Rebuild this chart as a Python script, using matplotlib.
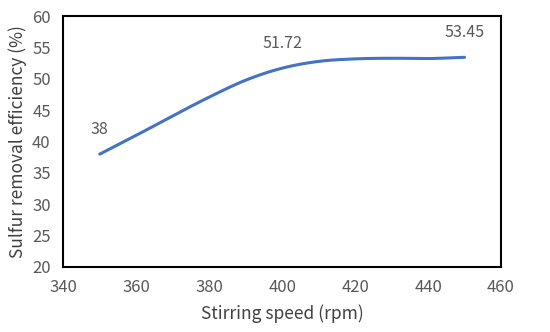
import numpy as np
import matplotlib.pyplot as plt

# ===== DATA =====
speed = [350, 360, 370, 380, 390, 400, 410, 420, 430, 440, 450]
efficiency = [38.0, 41.0, 44.1, 47.1, 49.8, 51.72, 52.8, 53.2, 53.3, 53.25, 53.45]
label_speed = [350, 400, 450]
label_text = ["38", "51.72", "53.45"]

x_ticks = [340, 360, 380, 400, 420, 440, 460]
y_ticks = [20, 25, 30, 35, 40, 45, 50, 55, 60]


# Excel-like smoothed line (cubic Bezier, Catmull-Rom control points)
def smooth(xs, ys, n=30):
    pts = np.column_stack([xs, ys]).astype(float)
    out = []
    for i in range(len(pts) - 1):
        p0 = pts[i - 1] if i > 0 else pts[i]
        p1 = pts[i]
        p2 = pts[i + 1]
        p3 = pts[i + 2] if i + 2 < len(pts) else pts[i + 1]
        c1 = p1 + (p2 - p0) / 6
        c2 = p2 - (p3 - p1) / 6
        t = np.linspace(0, 1, n)[:, None]
        seg = ((1 - t) ** 3) * p1 + 3 * ((1 - t) ** 2) * t * c1 \
            + 3 * (1 - t) * t ** 2 * c2 + t ** 3 * p2
        out.append(seg if i == 0 else seg[1:])
    out = np.vstack(out)
    return out[:, 0], out[:, 1]


plt.rcParams['font.family'] = ['Noto Sans CJK SC', 'DejaVu Sans']

fig = plt.figure(figsize=(5.5, 3.32), dpi=100)
ax = fig.add_axes([0.115, 0.196, 0.796, 0.755])

sx, sy = smooth(speed, efficiency)
ax.plot(sx, sy, color="#4472C4", linewidth=2.2, solid_capstyle="round")

for xv, txt in zip(label_speed, label_text):
    yv = efficiency[speed.index(xv)]
    ax.annotate(txt, (xv, yv), xytext=(0, 18), textcoords="offset points",
                ha="center", va="center", fontsize=11.5, color="#595959")

ax.set_xlim(340, 460)
ax.set_ylim(20, 60)
ax.set_xticks(x_ticks)
ax.set_yticks(y_ticks)
ax.tick_params(length=0, labelsize=12, labelcolor="#595959", pad=9)
for s in ax.spines.values():
    s.set_linewidth(1.5)
    s.set_color("black")

ax.set_xlabel("Stirring speed (rpm)", fontsize=12.5, color="#404040", labelpad=6)
ax.set_ylabel("Sulfur removal efficiency (%)", fontsize=12.5, color="#404040", labelpad=4)

fig.savefig("out.png", dpi=100)
